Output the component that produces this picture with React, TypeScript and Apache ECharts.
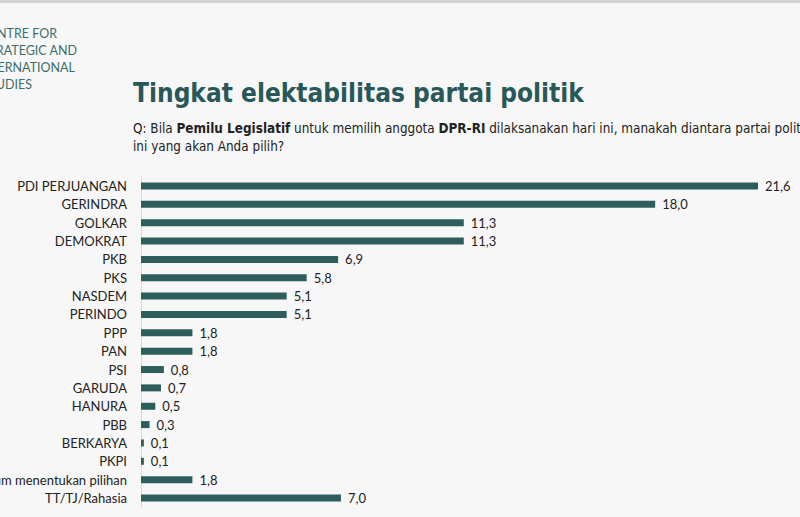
import React, { useEffect, useRef } from "react";
import * as echarts from "echarts";

const categories = [
  "PDI PERJUANGAN", "GERINDRA", "GOLKAR", "DEMOKRAT", "PKB", "PKS", "NASDEM", "PERINDO",
  "PPP", "PAN", "PSI", "GARUDA", "HANURA", "PBB", "BERKARYA", "PKPI",
  "Belum menentukan pilihan", "TT/TJ/Rahasia",
];
const values = [21.6, 18.0, 11.3, 11.3, 6.9, 5.8, 5.1, 5.1, 1.8, 1.8, 0.8, 0.7, 0.5, 0.3, 0.1, 0.1, 1.8, 7.0];
const logoLines = ["CENTRE FOR", "STRATEGIC AND", "INTERNATIONAL", "STUDIES"];
const logoRight = [57, 77, 75, 32];
const titleText = "Tingkat elektabilitas partai politik";

export default function App() {
  const ref = useRef<HTMLDivElement>(null);
  useEffect(() => {
    if (!ref.current) return;
    const chart = echarts.init(ref.current, null, { renderer: "svg" });
    const labelFont = "Lato, 'Noto Sans', sans-serif";
    chart.setOption({
      animation: false,
      backgroundColor: "#f7f7f7",
      grid: { left: 141, right: 2, top: 176.8, bottom: 9.8, containLabel: false, outerBoundsMode: "none" },
      xAxis: { type: "value", min: 0, max: 23, show: false },
      yAxis: {
        type: "category",
        data: categories,
        inverse: true,
        axisLine: { show: true, lineStyle: { color: "#d9d9d9", width: 1 } },
        axisTick: { show: false },
        axisLabel: { margin: 14, color: "#222", fontSize: 13, fontFamily: labelFont },
      },
      series: [
        {
          type: "bar",
          data: values,
          barWidth: 7,
          itemStyle: { color: "#2d5e5b" },
          label: {
            show: true,
            position: "right",
            distance: 7,
            color: "#222",
            fontSize: 13,
            fontFamily: labelFont,
            formatter: (p: any) => Number(p.value).toFixed(1).replace(".", ","),
          },
        },
      ],
      graphic: [
        { type: "rect", shape: { x: 0, y: 0, width: 800, height: 3 }, style: { fill: "#d2d2d2" } },
        ...logoLines.map((t, i) => ({
          type: "text",
          x: logoRight[i],
          y: 33 + i * 17,
          style: {
            text: t,
            align: "right",
            verticalAlign: "middle",
            fill: "#3d6d6a",
            font: "12.5px Lato, 'Noto Sans', sans-serif",
          },
        })),
        {
          type: "text",
          x: 133,
          y: 80,
          style: {
            text: titleText,
            verticalAlign: "alphabetic",
            fill: "#285859",
            font: "bold 26px 'DejaVu Sans Condensed', 'DejaVu Sans', sans-serif",
          },
        },
        {
          type: "text",
          x: 133,
          y: 128,
          style: {
            rich: {
              n: { fontSize: 13.4, fontFamily: "'DejaVu Sans Condensed', sans-serif", fill: "#222" },
              b: { fontSize: 13.4, fontFamily: "'DejaVu Sans Condensed', sans-serif", fontWeight: "bold", fill: "#222" },
            },
            text: "{n|Q: Bila }{b|Pemilu Legislatif}{n| untuk memilih anggota }{b|DPR-RI}{n| dilaksanakan hari ini, manakah diantara partai politik}",
            verticalAlign: "middle",
          },
        },
        {
          type: "text",
          x: 133,
          y: 146,
          style: {
            text: "ini yang akan Anda pilih?",
            verticalAlign: "middle",
            fill: "#222",
            font: "13.4px 'DejaVu Sans Condensed', sans-serif",
          },
        },
      ],
    });
    return () => chart.dispose();
  }, []);
  return (
    <div
      ref={ref}
      style={{ position: "fixed", left: 0, top: 0, width: 800, height: 517, overflow: "hidden" }}
    />
  );
}
